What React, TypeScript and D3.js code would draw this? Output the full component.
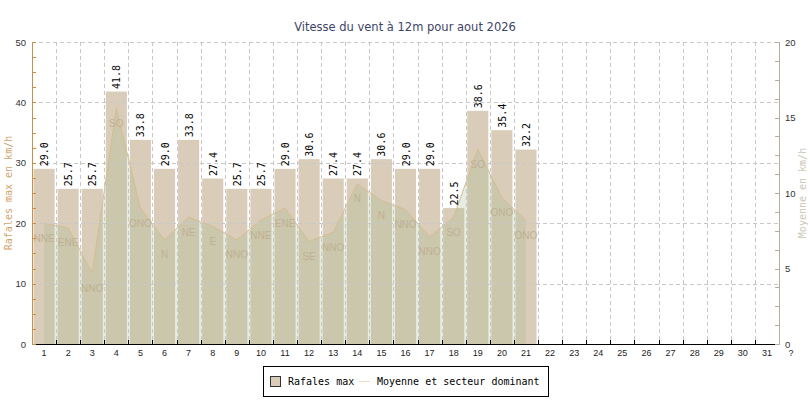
import React, { useRef, useEffect } from 'react';
import * as d3 from 'd3';

const days = d3.range(1, 32).map(String);
const gusts = [29.0, 25.7, 25.7, 41.8, 33.8, 29.0, 33.8, 27.4, 25.7, 25.7, 29.0, 30.6, 27.4, 27.4, 30.6, 29.0, 29.0, 22.5, 38.6, 35.4, 32.2];
const averages = [8.0, 7.7, 4.7, 15.6, 9.0, 6.9, 8.4, 7.8, 6.9, 8.2, 9.0, 6.8, 7.4, 10.6, 9.5, 8.9, 7.1, 8.4, 12.9, 9.7, 8.2];
const sectors = ['NNE', 'ENE', 'NNO', 'SO', 'ONO', 'N', 'NE', 'E', 'NNO', 'NNE', 'ENE', 'SE', 'NNO', 'N', 'N', 'NNO', 'NNO', 'SO', 'SO', 'ONO', 'ONO'];
const leftTicks = [0, 10, 20, 30, 40, 50];
const rightTicks = [0, 5, 10, 15, 20];

const W = 810;
const H = 400;
const M = { left: 32, right: 31, top: 42, bottom: 56 };

const BAR = '#d9ccb9';
const MONO = '"DejaVu Sans Mono", monospace';
const SANS = '"Liberation Sans", Arial, sans-serif';

const App: React.FC = () => {
  const svgRef = useRef<SVGSVGElement | null>(null);

  useEffect(() => {
    const svg = d3.select(svgRef.current);
    svg.selectAll('*').remove();

    const x = d3.scaleBand<string>().domain(days).range([M.left, W - M.right]).padding(0);
    const yL = d3.scaleLinear().domain([0, 50]).range([H - M.bottom, M.top]);
    const yR = d3.scaleLinear().domain([0, 20]).range([H - M.bottom, M.top]);
    const cx = (i: number) => (x(days[i]) as number) + x.bandwidth() / 2;
    const bottom = H - M.bottom;

    svg.append('rect').attr('width', W).attr('height', H).attr('fill', '#fff');

    // title
    svg.append('text')
      .attr('x', W / 2).attr('y', 31)
      .attr('text-anchor', 'middle')
      .attr('font-family', '"DejaVu Sans", sans-serif')
      .attr('font-size', 11.5)
      .attr('fill', '#3d4566')
      .text('Vitesse du vent à 12m pour aout 2026');

    // bars
    svg.append('g').selectAll('rect').data(gusts).join('rect')
      .attr('x', (_, i) => (x(days[i]) as number) + 1.5)
      .attr('width', x.bandwidth() - 3)
      .attr('y', d => yL(d))
      .attr('height', d => bottom - yL(d))
      .attr('fill', BAR);

    // average area + line
    const area = d3.area<number>()
      .x((_, i) => cx(i))
      .y0(bottom)
      .y1(d => yR(d));
    svg.append('path').datum(averages)
      .attr('d', area)
      .attr('fill', 'rgb(168,184,140)')
      .attr('fill-opacity', 0.27);
    const line = d3.line<number>().x((_, i) => cx(i)).y(d => yR(d));
    svg.append('path').datum(averages)
      .attr('d', line)
      .attr('fill', 'none')
      .attr('stroke', '#d6bd8f')
      .attr('stroke-width', 1);

    // grid on top
    const grid = svg.append('g')
      .attr('stroke', '#c8c8c8')
      .attr('stroke-dasharray', '4,3')
      .attr('shape-rendering', 'crispEdges');
    grid.selectAll('line.h').data(leftTicks.slice(1)).join('line')
      .attr('x1', M.left).attr('x2', W - M.right)
      .attr('y1', d => Math.round(yL(d)) + 0.5).attr('y2', d => Math.round(yL(d)) + 0.5);
    grid.selectAll('line.v').data(days.slice(1)).join('line')
      .attr('x1', d => Math.round(x(d) as number) + 0.5).attr('x2', d => Math.round(x(d) as number) + 0.5)
      .attr('y1', M.top).attr('y2', bottom);

    // direction labels
    svg.append('g').selectAll('text').data(sectors).join('text')
      .attr('x', (_, i) => cx(i))
      .attr('y', (_, i) => yR(averages[i]) + 18.5)
      .attr('text-anchor', 'middle')
      .attr('font-family', SANS)
      .attr('font-size', 10)
      .attr('fill', '#c0b092')
      .text(d => d);

    // value labels
    svg.append('g').selectAll('text').data(gusts).join('text')
      .attr('transform', (d, i) => `translate(${cx(i) + 4},${yL(d) - 2.5}) rotate(-90)`)
      .attr('font-family', MONO)
      .attr('font-size', 10)
      .attr('fill', '#000')
      .text(d => d.toFixed(1));

    // x axis
    const xa = svg.append('g').attr('shape-rendering', 'crispEdges');
    xa.append('line')
      .attr('x1', M.left).attr('x2', W - M.right)
      .attr('y1', bottom + 0.5).attr('y2', bottom + 0.5)
      .attr('stroke', '#000');
    xa.selectAll('line.t').data(days.slice(1)).join('line')
      .attr('x1', d => Math.round(x(d) as number) + 0.5).attr('x2', d => Math.round(x(d) as number) + 0.5)
      .attr('y1', bottom).attr('y2', bottom - 4)
      .attr('stroke', '#000');
    xa.selectAll('text').data(days).join('text')
      .attr('x', (_, i) => cx(i))
      .attr('y', bottom + 12)
      .attr('text-anchor', 'middle')
      .attr('font-family', SANS)
      .attr('font-size', 9)
      .attr('fill', '#222')
      .text(d => d);
    svg.append('text')
      .attr('x', 791).attr('y', bottom + 12)
      .attr('text-anchor', 'middle')
      .attr('font-family', SANS).attr('font-size', 9).attr('fill', '#222')
      .text('?');

    // left axis
    const la = svg.append('g').attr('shape-rendering', 'crispEdges');
    la.append('line')
      .attr('x1', M.left + 0.5).attr('x2', M.left + 0.5)
      .attr('y1', M.top).attr('y2', bottom + 1)
      .attr('stroke', '#c8914a');
    la.selectAll('line.t').data(d3.range(0, 50.1, 2.5)).join('line')
      .attr('x1', M.left).attr('x2', M.left + 4)
      .attr('y1', d => Math.round(yL(d)) + 0.5).attr('y2', d => Math.round(yL(d)) + 0.5)
      .attr('stroke', '#c8914a');
    la.selectAll('text').data(leftTicks).join('text')
      .attr('x', M.left - 6)
      .attr('y', d => yL(d) + 3.5)
      .attr('text-anchor', 'end')
      .attr('font-family', SANS).attr('font-size', 9.5).attr('fill', '#333')
      .text(d => d);
    svg.append('text')
      .attr('transform', `translate(12,${(M.top + bottom) / 2}) rotate(-90)`)
      .attr('text-anchor', 'middle')
      .attr('font-family', MONO).attr('font-size', 10).attr('fill', '#d2a36c')
      .text('Rafales max en km/h');

    // right axis
    const rx = W - M.right;
    const ra = svg.append('g').attr('shape-rendering', 'crispEdges');
    ra.append('line')
      .attr('x1', rx + 0.5).attr('x2', rx + 0.5)
      .attr('y1', M.top).attr('y2', bottom + 1)
      .attr('stroke', '#b9ae9c');
    ra.selectAll('line.t').data(d3.range(0, 20.1, 1.25)).join('line')
      .attr('x1', rx).attr('x2', rx - 4)
      .attr('y1', d => Math.round(yR(d)) + 0.5).attr('y2', d => Math.round(yR(d)) + 0.5)
      .attr('stroke', '#b9ae9c');
    ra.selectAll('text').data(rightTicks).join('text')
      .attr('x', rx + 6)
      .attr('y', d => yR(d) + 3.5)
      .attr('font-family', SANS).attr('font-size', 9.5).attr('fill', '#333')
      .text(d => d);
    svg.append('text')
      .attr('transform', `translate(806,${(M.top + bottom) / 2}) rotate(-90)`)
      .attr('text-anchor', 'middle')
      .attr('font-family', MONO).attr('font-size', 10).attr('fill', '#cdc5b6')
      .text('Moyenne en km/h');

    // legend
    const lg = svg.append('g');
    lg.append('rect')
      .attr('x', 263.5).attr('y', 366.5).attr('width', 285).attr('height', 30)
      .attr('fill', '#fff').attr('stroke', '#000');
    lg.append('rect')
      .attr('x', 270.5).attr('y', 376.5).attr('width', 10).attr('height', 10)
      .attr('fill', BAR).attr('stroke', '#333');
    lg.append('text')
      .attr('x', 288).attr('y', 385)
      .attr('font-family', MONO).attr('font-size', 10).attr('fill', '#000')
      .text('Rafales max');
    lg.append('line')
      .attr('x1', 359).attr('x2', 370).attr('y1', 381.5).attr('y2', 381.5)
      .attr('stroke', '#e6dcc4');
    lg.append('text')
      .attr('x', 377).attr('y', 385)
      .attr('font-family', MONO).attr('font-size', 10).attr('fill', '#000')
      .text('Moyenne et secteur dominant');
  }, []);

  return (
    <svg
      ref={svgRef}
      width={W}
      height={H}
      style={{ position: 'absolute', left: 0, top: 0 }}
    />
  );
};

export default App;
